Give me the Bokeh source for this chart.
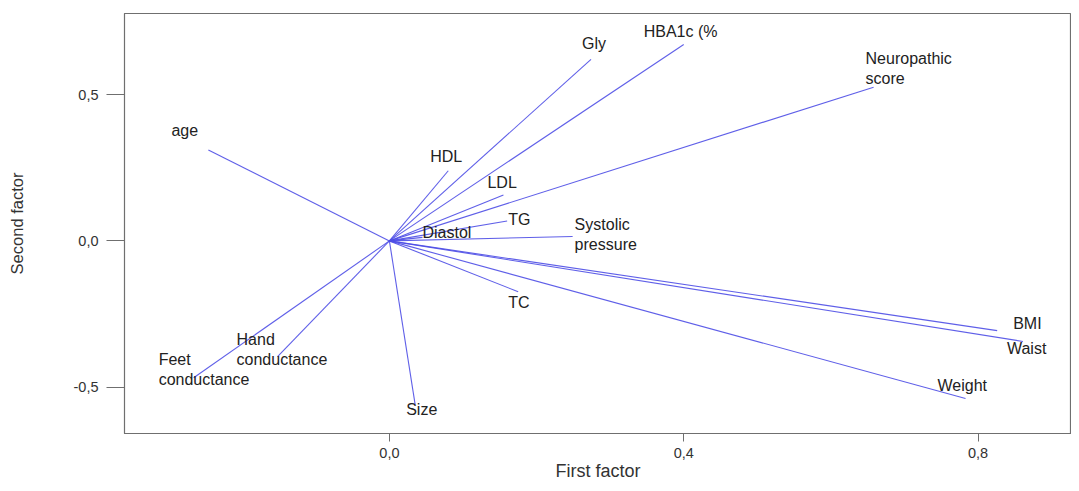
from bokeh.plotting import figure
from bokeh.models import ColumnDataSource, FixedTicker, Range1d
from bokeh.embed import file_html
from bokeh.resources import INLINE
from bokeh.core.properties import value

# ---- data (loadings) ----
variables = ["age", "Gly", "HBA1c (%", "Neuropathic\nscore", "HDL", "LDL", "TG",
             "Diastol", "Systolic\npressure", "TC", "BMI", "Waist", "Weight",
             "Size", "Hand\nconductance", "Feet\nconductance"]
first_factor = [-0.246, 0.274, 0.400, 0.658, 0.080, 0.155, 0.160,
                0.045, 0.249, 0.175, 0.826, 0.861, 0.783,
                0.035, -0.152, -0.266]
second_factor = [0.311, 0.621, 0.672, 0.526, 0.240, 0.157, 0.068,
                 0.012, 0.015, -0.174, -0.307, -0.344, -0.539,
                 -0.560, -0.396, -0.468]
x_ticks = [0.0, 0.4, 0.8]
x_tick_labels = ["0,0", "0,4", "0,8"]
y_ticks = [-0.5, 0.0, 0.5]
y_tick_labels = ["-0,5", "0,0", "0,5"]

# ---- label placement (pixel offsets from the arrow tips, screen-down positive; style only) ----
label_dx = [-37, -9, -40, -8, -18, -16, 1, 0, 2, -10, 16, -16, -28, -9, -41, -35]
label_dy = [-19, -16, -13, -37, -14, -13, -2, -5, -21, 11, -7, 7, -13, 5, -26, -27]
label_anchor = ["center_left", "center_left", "center_left", "top_left", "center_left",
                "center_left", "center_left", "center_left", "top_left", "center_left",
                "center_left", "center_left", "center_left", "center_left", "top_left",
                "top_left"]

src = ColumnDataSource(dict(
    name=variables, x=first_factor, y=second_factor,
    x0=[0.0] * len(variables), y0=[0.0] * len(variables),
    dx=label_dx, dy=label_dy, anchor=label_anchor,
))

FONT = "Liberation Sans"

p = figure(width=1071, height=483, output_backend="svg", toolbar_location=None,
           x_range=Range1d(-0.360, 0.927), y_range=Range1d(-0.659, 0.778),
           min_border_left=124, min_border_right=0, min_border_top=13, min_border_bottom=49)

p.grid.visible = False
p.outline_line_color = "#6f6f6f"
p.outline_line_width = 1.2
p.background_fill_color = "white"
p.border_fill_color = "white"

p.segment(x0="x0", y0="y0", x1="x", y1="y", source=src,
          line_color="#4e4ee6", line_width=1.1, line_alpha=0.9)

p.text(x="x", y="y", text="name", source=src,
       x_offset="dx", y_offset="dy", anchor="anchor",
       text_font=value(FONT), text_font_size="16px",
       text_color="#222222", text_line_height=1.18)

for ax in (p.xaxis[0], p.yaxis[0]):
    ax.axis_line_color = "#6f6f6f"
    ax.major_tick_line_color = "#6f6f6f"
    ax.minor_tick_line_color = None
    ax.major_tick_in = 0
    ax.major_label_text_font = FONT
    ax.major_label_text_font_size = "14.5px"
    ax.major_label_text_color = "#333333"
    ax.axis_label_text_font = FONT
    ax.axis_label_text_font_style = "normal"
    ax.axis_label_text_color = "#333333"

p.xaxis.ticker = FixedTicker(ticks=x_ticks)
p.xaxis.major_label_overrides = dict(zip(x_ticks, x_tick_labels))
p.xaxis.major_tick_out = 8
p.xaxis.major_label_standoff = 6
p.xaxis.axis_label = "First factor"
p.xaxis.axis_label_text_font_size = "18px"
p.xaxis.axis_label_standoff = 0

p.yaxis.ticker = FixedTicker(ticks=y_ticks)
p.yaxis.major_label_overrides = dict(zip(y_ticks, y_tick_labels))
p.yaxis.major_tick_out = 18
p.yaxis.major_label_standoff = 8
p.yaxis.axis_label = "Second factor"
p.yaxis.axis_label_text_font_size = "16.5px"
p.yaxis.axis_label_standoff = 45

open("out.html", "w").write(file_html(p, INLINE))
